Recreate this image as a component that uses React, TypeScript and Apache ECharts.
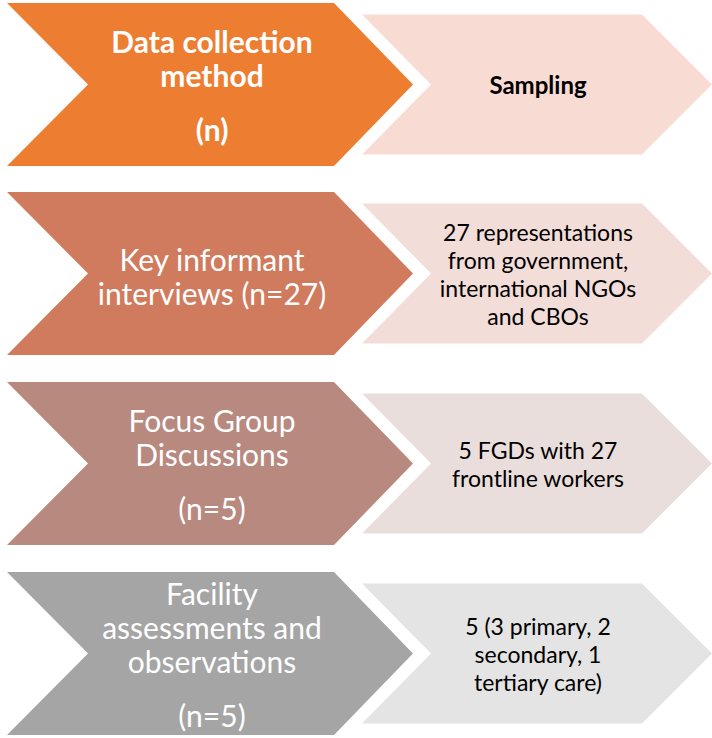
import React, { useEffect, useRef } from "react";
import * as echarts from "echarts";

// Data
const methods: string[][] = [
  ["Data collection", "method", "", "(n)"],
  ["Key informant", "interviews (n=27)"],
  ["Focus Group", "Discussions", "", "(n=5)"],
  ["Facility", "assessments and", "observations", "", "(n=5)"],
];
const sampling: string[][] = [
  ["Sampling"],
  ["27 representations", "from government,", "international NGOs", "and CBOs"],
  ["5 FGDs with 27", "frontline workers"],
  ["5 (3 primary, 2", "secondary, 1", "tertiary care)"],
];
const mainColors = ["#ED7D31", "#D07B5E", "#B7897F", "#A5A5A5"];
const lightColors = ["#F8DCD3", "#F2DDD9", "#EADEDD", "#E4E4E4"];
const boldRow = [true, false, false, false];

function buildGraphics() {
  const els: any[] = [];
  const rowTops = [3, 192, 382, 572];
  const H = 163;
  const lightH = 140;
  const mainFont = "Lato, 'Open Sans', sans-serif";
  methods.forEach((lines, i) => {
    const top = rowTops[i];
    const cy = top + H / 2;
    els.push({
      type: "polygon",
      shape: {
        points: [
          [7, top],
          [334, top],
          [413, cy],
          [334, top + H],
          [7, top + H],
          [88, cy],
        ],
      },
      style: { fill: mainColors[i] },
      z: 1,
    });
    const lt = cy - lightH / 2;
    els.push({
      type: "polygon",
      shape: {
        points: [
          [362, lt],
          [642, lt],
          [712, cy],
          [642, lt + lightH],
          [362, lt + lightH],
          [431, cy],
        ],
      },
      style: { fill: lightColors[i] },
      z: 1,
    });
    const lh = 34;
    const gap = 20;
    let total = 0;
    lines.forEach((l) => (total += l === "" ? gap : lh));
    let y = cy - total / 2 + (i === 1 ? 2 : 0);
    lines.forEach((l) => {
      if (l === "") {
        y += gap;
        return;
      }
      els.push({
        type: "text",
        x: 212,
        y: y + lh / 2,
        style: {
          text: l,
          fill: "#FFFFFF",
          font: `${boldRow[i] ? "bold " : ""}30px ${mainFont}`,
          textAlign: "center",
          textVerticalAlign: "middle",
        },
        z: 2,
      });
      y += lh;
    });
    const sl = sampling[i];
    const slh = 28;
    let sy = cy - (sl.length * slh) / 2;
    sl.forEach((l) => {
      els.push({
        type: "text",
        x: 538,
        y: sy + slh / 2,
        style: {
          text: l,
          fill: "#000000",
          font: `${i === 0 ? "bold 24px" : "23px"} ${mainFont}`,
          textAlign: "center",
          textVerticalAlign: "middle",
        },
        z: 2,
      });
      sy += slh;
    });
  });
  return els;
}

export default function App() {
  const ref = useRef<HTMLDivElement>(null);
  useEffect(() => {
    if (!ref.current) return;
    const chart = echarts.init(ref.current, undefined, { renderer: "svg" });
    chart.setOption({
      animation: false,
      backgroundColor: "#FFFFFF",
      graphic: { elements: buildGraphics() },
    });
    return () => chart.dispose();
  }, []);
  return (
    <div
      ref={ref}
      style={{ position: "fixed", left: 0, top: 0, width: 712, height: 738 }}
    />
  );
}
